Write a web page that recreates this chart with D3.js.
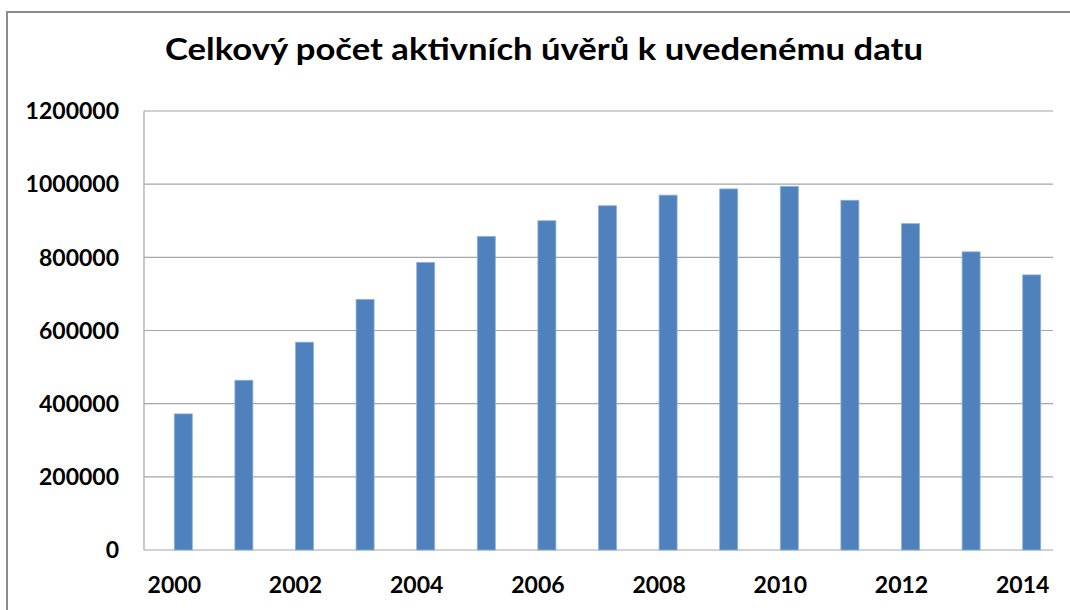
<!DOCTYPE html>
<html>
<head>
<meta charset="utf-8">
<script src="https://cdn.jsdelivr.net/npm/d3@7"></script>
<style>
body { margin: 0; background: #fff; }
text { font-family: Lato, "Open Sans", "Liberation Sans", sans-serif; font-weight: bold; fill: #000; }
</style>
</head>
<body>
<svg id="chart" width="1070" height="610"></svg>
<script>
// data
var years = ["2000","2001","2002","2003","2004","2005","2006","2007","2008","2009","2010","2011","2012","2013","2014"];
var loans = [372000, 464000, 568000, 685000, 786000, 857000, 900000, 941000, 970000, 987000, 994000, 956000, 892000, 815000, 752000];
var yTicks = [0, 200000, 400000, 600000, 800000, 1000000, 1200000];
var xLabels = ["2000","2002","2004","2006","2008","2010","2012","2014"];
var title = "Celkový počet aktivních úvěrů k uvedenému datu";

var svg = d3.select("#chart");
var plot = {left: 144, right: 1053, top: 111, bottom: 550};

// outer frame (cut off on right/bottom)
svg.append("rect")
	.attr("x", 7).attr("y", 12)
	.attr("width", 1100).attr("height", 700)
	.attr("fill", "none")
	.attr("stroke", "#8c8c8c")
	.attr("stroke-width", 2);

svg.append("text")
	.attr("x", 544).attr("y", 60)
	.attr("text-anchor", "middle")
	.attr("font-size", 30)
	.attr("textLength", 758)
	.attr("lengthAdjust", "spacingAndGlyphs")
	.text(title);

var x = d3.scaleBand().domain(years).range([plot.left, plot.right]);
var y = d3.scaleLinear().domain([0, 1200000]).range([plot.bottom, plot.top]);
var barW = 18, barShift = 9;

// gridlines
svg.append("g")
	.selectAll("line")
	.data(yTicks)
	.enter().append("line")
	.attr("x1", plot.left).attr("x2", plot.right)
	.attr("y1", function(d){ return y(d); })
	.attr("y2", function(d){ return y(d); })
	.attr("stroke", "#a6a6a6")
	.attr("stroke-width", 1.2);

// y axis line
svg.append("line")
	.attr("x1", plot.left).attr("x2", plot.left)
	.attr("y1", plot.top).attr("y2", plot.bottom)
	.attr("stroke", "#a6a6a6")
	.attr("stroke-width", 1.2);

// bars
svg.append("g")
	.selectAll("rect")
	.data(loans)
	.enter().append("rect")
	.attr("x", function(d, i){ return x(years[i]) + x.bandwidth()/2 + barShift - barW/2; })
	.attr("width", barW)
	.attr("y", function(d){ return y(d); })
	.attr("height", function(d){ return y(0) - y(d); })
	.attr("fill", "#4f81bd")
	.attr("stroke", "#8fb0d8")
	.attr("stroke-width", 0.8);

// y tick labels
svg.append("g")
	.selectAll("text")
	.data(yTicks)
	.enter().append("text")
	.attr("x", 119)
	.attr("y", function(d){ return y(d); })
	.attr("dy", "0.36em")
	.attr("text-anchor", "end")
	.attr("font-size", 23)
	.text(function(d){ return d; });

// x tick labels
svg.append("g")
	.selectAll("text")
	.data(xLabels)
	.enter().append("text")
	.attr("x", function(d){ return x(d) + x.bandwidth()/2; })
	.attr("y", 593)
	.attr("text-anchor", "middle")
	.attr("font-size", 23)
	.text(function(d){ return d; });
</script>
</body>
</html>
